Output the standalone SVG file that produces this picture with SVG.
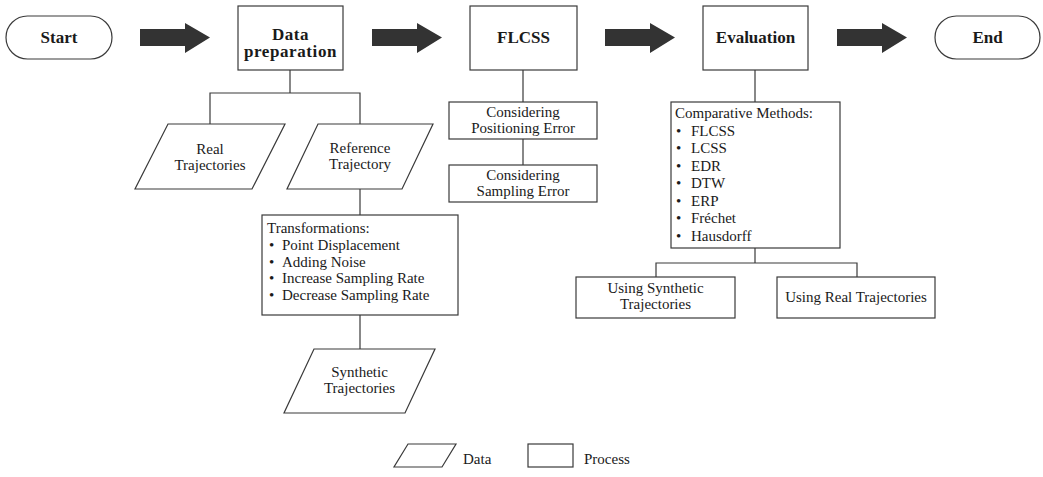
<svg xmlns="http://www.w3.org/2000/svg" width="1043" height="477" viewBox="0 0 1043 477">
<style>
.box{fill:#fff;stroke:#3a3a3a;stroke-width:1.2}
.ln{fill:none;stroke:#3a3a3a;stroke-width:1.2}
.arr{fill:#333;stroke:none}
text{font-family:"Liberation Serif","Times New Roman",serif;fill:#1a1a1a}
.b{font-weight:bold;font-size:17px;text-anchor:middle}
.r{font-size:15px}
.c{text-anchor:middle}
</style>
<rect width="1043" height="477" fill="#fff"/>
<g id="connectors">
<path class="arr" d="M140,29H185V23L210,37.5L185,53V46H140Z"/>
<path class="arr" d="M372,29H417V23L442,37.5L417,53V46H372Z"/>
<path class="arr" d="M605,29H650V23L675,37.5L650,53V46H605Z"/>
<path class="arr" d="M837,29H882V23L907,37.5L882,53V46H837Z"/>
<path class="ln" d="M290,70V93M210,124V93H360V124"/>
<path class="ln" d="M360,189V215M360,315V349"/>
<path class="ln" d="M523,70V102M523,139V165"/>
<path class="ln" d="M755,70V102M755,248V263M656,277V263H857V277"/>
</g>
<g id="start"><rect class="box" x="6" y="16" width="106" height="43" rx="21.5"/><text class="b" x="59" y="43">Start</text></g>
<g id="dataprep"><rect class="box" x="238" y="6" width="105" height="64"/><text class="b" x="290.5" y="40" letter-spacing="0.5">Data</text><text class="b" x="290.5" y="57" letter-spacing="0.6">preparation</text></g>
<g id="flcss"><rect class="box" x="470" y="6" width="107" height="64"/><text class="b" x="523.5" y="43">FLCSS</text></g>
<g id="evaluation"><rect class="box" x="703" y="6" width="105" height="64"/><text class="b" x="755.5" y="43">Evaluation</text></g>
<g id="end"><rect class="box" x="935" y="16" width="105" height="43" rx="21.5"/><text class="b" x="987.5" y="43">End</text></g>
<g id="real"><path class="box" d="M168,124H285L252,189H135Z"/><text class="r c" x="210" y="154">Real</text><text class="r c" x="210" y="170">Trajectories</text></g>
<g id="reference"><path class="box" d="M318,124H433L402,189H287Z"/><text class="r c" x="360" y="153">Reference</text><text class="r c" x="360" y="169">Trajectory</text></g>
<g id="transformations"><rect class="box" x="262" y="215" width="196" height="100"/>
<text class="r" x="267" y="233">Transformations:</text>
<text class="r"><tspan x="269" y="250">•</tspan><tspan x="282" y="250">Point Displacement</tspan></text>
<text class="r"><tspan x="269" y="266.5">•</tspan><tspan x="282" y="266.5">Adding Noise</tspan></text>
<text class="r"><tspan x="269" y="283">•</tspan><tspan x="282" y="283">Increase Sampling Rate</tspan></text>
<text class="r"><tspan x="269" y="300">•</tspan><tspan x="282" y="300">Decrease Sampling Rate</tspan></text>
</g>
<g id="synthetic"><path class="box" d="M314,349H435L405,413H284Z"/><text class="r c" x="359.5" y="377">Synthetic</text><text class="r c" x="359.5" y="393">Trajectories</text></g>
<g id="posErr"><rect class="box" x="449" y="102" width="148" height="37"/><text class="r c" x="523" y="117">Considering</text><text class="r c" x="523" y="133">Positioning Error</text></g>
<g id="sampErr"><rect class="box" x="449" y="165" width="148" height="37"/><text class="r c" x="523" y="180">Considering</text><text class="r c" x="523" y="196">Sampling Error</text></g>
<g id="methods"><rect class="box" x="671" y="102" width="169" height="146"/>
<text class="r" x="675" y="118">Comparative Methods:</text>
<text class="r"><tspan x="676" y="135.5">•</tspan><tspan x="691" y="135.5">FLCSS</tspan></text>
<text class="r"><tspan x="676" y="153">•</tspan><tspan x="691" y="153">LCSS</tspan></text>
<text class="r"><tspan x="676" y="170.5">•</tspan><tspan x="691" y="170.5">EDR</tspan></text>
<text class="r"><tspan x="676" y="188">•</tspan><tspan x="691" y="188">DTW</tspan></text>
<text class="r"><tspan x="676" y="205.5">•</tspan><tspan x="691" y="205.5">ERP</tspan></text>
<text class="r"><tspan x="676" y="223">•</tspan><tspan x="691" y="223">Fréchet</tspan></text>
<text class="r"><tspan x="676" y="240.5">•</tspan><tspan x="691" y="240.5">Hausdorff</tspan></text>
</g>
<g id="useSynth"><rect class="box" x="576" y="277" width="159" height="41"/><text class="r c" x="655.5" y="293">Using Synthetic</text><text class="r c" x="655.5" y="309">Trajectories</text></g>
<g id="useReal"><rect class="box" x="777" y="277" width="158" height="41"/><text class="r c" x="856" y="302">Using Real Trajectories</text></g>
<g id="legend">
<path class="box" d="M408,444H456L442,467H394Z"/><text class="r" x="463" y="464">Data</text>
<rect class="box" x="528" y="444" width="45" height="23"/><text class="r" x="584" y="464">Process</text>
</g>
</svg>
